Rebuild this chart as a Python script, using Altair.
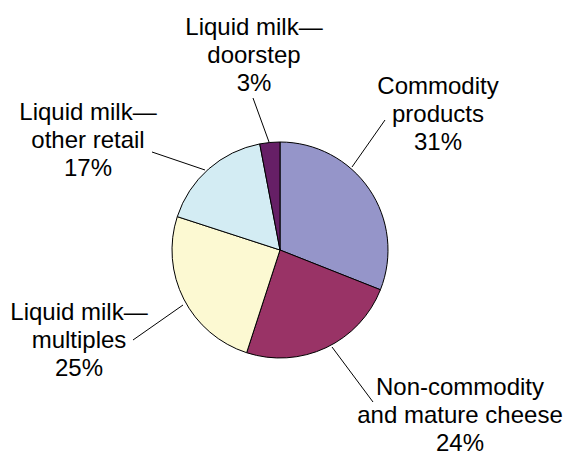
import altair as alt
import pandas as pd

# ---- data ----
categories = [
    "Commodity products",
    "Non-commodity and mature cheese",
    "Liquid milk—multiples",
    "Liquid milk—other retail",
    "Liquid milk—doorstep",
]
shares = [31, 24, 25, 17, 3]
label_lines = [
    ["Commodity", "products"],
    ["Non-commodity", "and mature cheese"],
    ["Liquid milk—", "multiples"],
    ["Liquid milk—", "other retail"],
    ["Liquid milk—", "doorstep"],
]

# ---- layout / style ----
W, H = 564, 457
CX, CY, R = 280, 250, 108
colors = ["#9595C9", "#993366", "#FCF9D2", "#D3ECF3", "#661F66"]
label_x = [438, 460, 79, 88, 254]          # label centre (px)
label_y = [94, 395, 320, 120, 35]          # first baseline (px)
leader_x1 = [385, 332, 133, 152, 253]      # outer end of leader
leader_y1 = [120, 347, 340, 152, 98]
leader_x2 = [352, 373, 183, 205, 269]      # end near pie
leader_y2 = [167, 402, 305, 170, 142]

df = pd.DataFrame({
    "category": categories,
    "share": shares,
    "order": list(range(len(categories))),
    "label": ["\n".join(l + [f"{v}%"]) for l, v in zip(label_lines, shares)],
    "lx": label_x, "ly": label_y,
    "x1": leader_x1, "y1": leader_y1, "x2": leader_x2, "y2": leader_y2,
})

xs = alt.Scale(domain=[0, W])
ys = alt.Scale(domain=[0, H], reverse=True)

pie = alt.Chart(df).mark_arc(radius=R, stroke="#000000", strokeWidth=1).encode(
    theta=alt.Theta("share:Q", stack=True),
    order=alt.Order("order:Q"),
    color=alt.Color("category:N", scale=alt.Scale(domain=categories, range=colors), legend=None),
    x=alt.value(CX),
    y=alt.value(CY),
)

leaders = alt.Chart(df).mark_rule(color="#000000", strokeWidth=1).encode(
    x=alt.X("x1:Q", scale=xs, axis=None),
    y=alt.Y("y1:Q", scale=ys, axis=None),
    x2="x2:Q",
    y2="y2:Q",
)

labels = alt.Chart(df).mark_text(
    font="Liberation Sans", fontSize=24, color="#000000",
    align="center", baseline="alphabetic", lineBreak="\n", lineHeight=28,
).encode(
    x=alt.X("lx:Q", scale=xs, axis=None),
    y=alt.Y("ly:Q", scale=ys, axis=None),
    text="label:N",
)

chart = alt.layer(leaders, pie, labels).properties(
    width=W, height=H, padding=0,
    autosize=alt.AutoSizeParams(type="none"),
    background="#FFFFFF",
).configure_view(stroke=None)

chart.save("out.html", embed_options={"renderer": "svg", "actions": False})
